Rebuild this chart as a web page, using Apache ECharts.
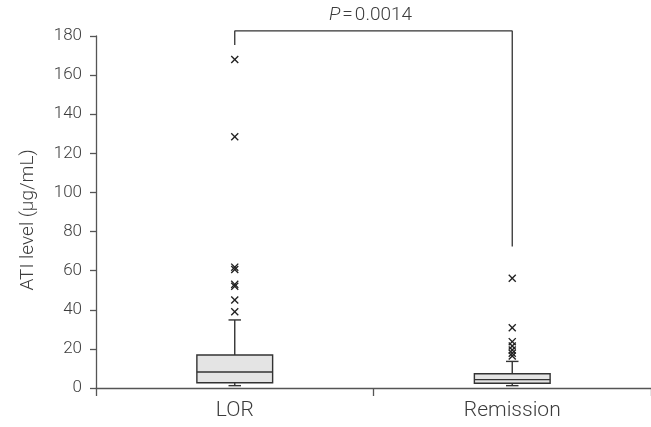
<!DOCTYPE html>
<html>
<head>
<meta charset="utf-8">
<script src="https://cdn.jsdelivr.net/npm/echarts@6/dist/echarts.min.js"></script>
<style>html,body{margin:0;padding:0;background:#fff}#c{width:651px;height:427px}</style>
</head>
<body>
<div id="c"></div>
<script>
// ---- data ----
var categories = ['LOR', 'Remission'];
var yTicks = [0, 20, 40, 60, 80, 100, 120, 140, 160, 180];
// [min whisker, Q1, median, Q3, max whisker]
var lorBox = [1.2, 2.7, 8.2, 16.9, 34.8];
var remissionBox = [1.2, 2.4, 4.3, 7.3, 13.6];
var lorOutliers = [168, 128.5, 61.8, 60.6, 53, 52, 45, 39];
var remissionOutliers = [56.1, 30.8, 23.7, 21.5, 19.4, 17.8, 16.4];
var bracketLeftLow = 175.4, bracketTop = 182.6, bracketRightLow = 72.3;
var pText = '=0.0014';

var FONT = 'Roboto, "Liberation Sans", sans-serif';
var TXT = '#3c3c3c';
var boxes = [[0].concat(lorBox), [1].concat(remissionBox)];
var outPts = lorOutliers.map(function (v) { return [categories[0], v]; })
  .concat(remissionOutliers.map(function (v) { return [categories[1], v]; }));
var bracket = [[categories[0], bracketLeftLow], [categories[0], bracketTop],
               [categories[1], bracketTop], [categories[1], bracketRightLow]];
var XPATH = 'path://M0,1.2L1.2,0L5,3.8L8.8,0L10,1.2L6.2,5L10,8.8L8.8,10L5,6.2L1.2,10L0,8.8L3.8,5Z';

var chart = echarts.init(document.getElementById('c'), null, {renderer: 'canvas'});
chart.setOption({
  animation: false,
  backgroundColor: '#fff',
  grid: {left: 96, right: -9, top: 36, bottom: 39, containLabel: false},
  xAxis: {
    type: 'category', data: categories, boundaryGap: true,
    axisLine: {lineStyle: {color: '#555', width: 1.3}},
    axisTick: {show: true, length: 8, inside: false, alignWithLabel: false, lineStyle: {color: '#555', width: 1.3}},
    axisLabel: {margin: 12, fontSize: 21, color: TXT, fontFamily: FONT, fontWeight: 300},
    splitLine: {show: false}
  },
  yAxis: {
    type: 'value', min: 0, max: 180, interval: 20,
    name: 'ATI level (\u03bcg/mL)', nameLocation: 'middle', nameGap: 58, nameRotate: 90,
    nameTextStyle: {fontSize: 19, color: TXT, fontFamily: FONT, fontWeight: 300, padding: [0, 16, 0, 0]},
    axisLine: {show: true, lineStyle: {color: '#555', width: 1.3}},
    axisTick: {show: true, length: 6, lineStyle: {color: '#555', width: 1.3}},
    axisLabel: {margin: 14, fontSize: 17, color: TXT, fontFamily: FONT, fontWeight: 300,
      formatter: function (v) { return yTicks.indexOf(v) >= 0 ? String(v) : ''; }},
    splitLine: {show: false}
  },
  graphic: [{
    type: 'text', left: 329, top: 6, z: 100,
    style: {
      text: '{i|P}{e|=}{n|' + pText.slice(1) + '}',
      font: '300 19px ' + FONT, fill: TXT,
      rich: {
        i: {fontStyle: 'italic', fontSize: 19, fontFamily: FONT, fontWeight: 300, fill: TXT},
        e: {fontSize: 19, fontFamily: FONT, fontWeight: 300, fill: TXT, padding: [0, 2, 0, 2]},
        n: {fontSize: 19, fontFamily: FONT, fontWeight: 300, fill: TXT}
      }
    }
  }],
  series: [
    {
      type: 'custom',
      data: boxes,
      encode: {x: 0, y: [1, 2, 3, 4, 5]},
      renderItem: function (params, api) {
        var ci = api.value(0);
        var band = api.size([1, 0])[0];
        var bw = band * 0.273, cw = band * 0.045;
        var pMin = api.coord([ci, api.value(1)]);
        var pQ1 = api.coord([ci, api.value(2)]);
        var pMed = api.coord([ci, api.value(3)]);
        var pQ3 = api.coord([ci, api.value(4)]);
        var pMax = api.coord([ci, api.value(5)]);
        var cx = pMed[0];
        var ls = {stroke: '#333', lineWidth: 1.4, fill: null};
        return {
          type: 'group',
          children: [
            {type: 'line', shape: {x1: cx, y1: pMax[1], x2: cx, y2: pQ3[1]}, style: ls},
            {type: 'line', shape: {x1: cx, y1: pMin[1], x2: cx, y2: pQ1[1]}, style: ls},
            {type: 'line', shape: {x1: cx - cw / 2, y1: pMax[1], x2: cx + cw / 2, y2: pMax[1]}, style: ls},
            {type: 'line', shape: {x1: cx - cw / 2, y1: pMin[1], x2: cx + cw / 2, y2: pMin[1]}, style: ls},
            {type: 'rect', shape: {x: cx - bw / 2, y: pQ3[1], width: bw, height: pQ1[1] - pQ3[1]},
              style: {fill: '#e4e4e4', stroke: '#333', lineWidth: 1.4}},
            {type: 'line', shape: {x1: cx - bw / 2, y1: pMed[1], x2: cx + bw / 2, y2: pMed[1]}, style: ls}
          ]
        };
      },
      z: 3
    },
    {
      type: 'scatter', data: outPts, symbol: XPATH, symbolSize: 8,
      itemStyle: {color: '#222', opacity: 1}, z: 4
    },
    {
      type: 'line', data: bracket, clip: false, symbol: 'none', silent: true,
      lineStyle: {color: '#333', width: 1.3}, z: 2
    }
  ]
});
</script>
</body>
</html>
